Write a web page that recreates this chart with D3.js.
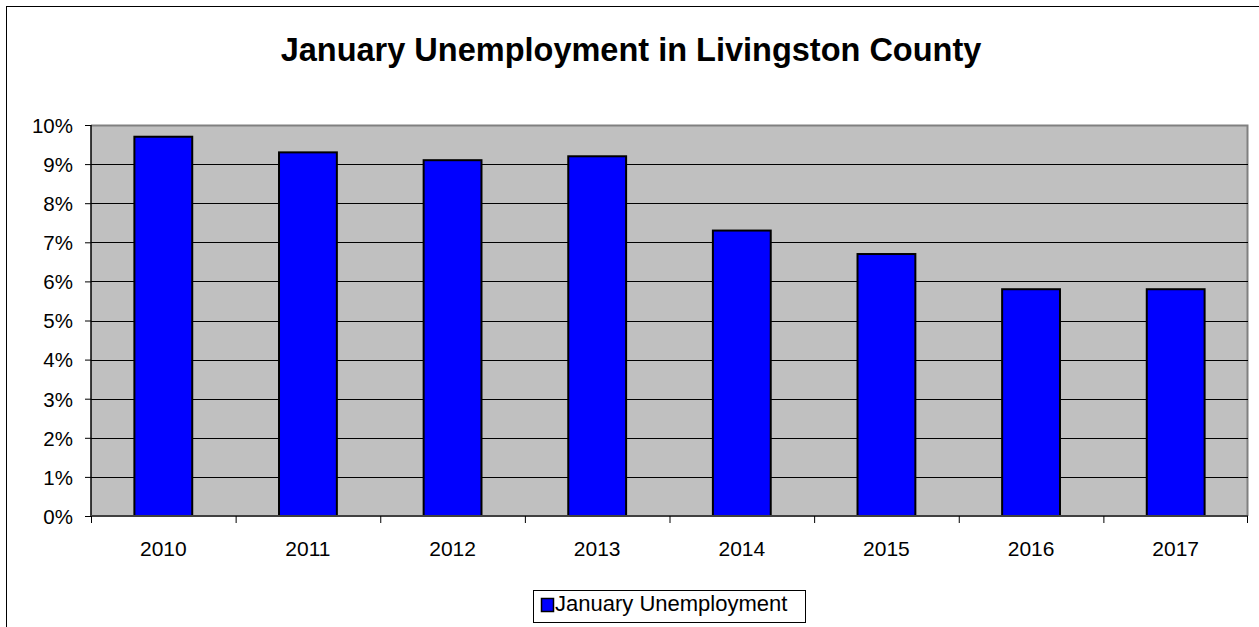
<!DOCTYPE html>
<html>
<head>
<meta charset="utf-8">
<script src="https://cdn.jsdelivr.net/npm/d3@7"></script>
<style>
  body { margin: 0; background: #fff; }
  text { font-family: "Liberation Sans", Arial, sans-serif; }
</style>
</head>
<body>
<div id="chart"></div>
<script>
var years = ["2010", "2011", "2012", "2013", "2014", "2015", "2016", "2017"];
var unemployment = [9.7, 9.3, 9.1, 9.2, 7.3, 6.7, 5.8, 5.8];
var yTicks = [0, 1, 2, 3, 4, 5, 6, 7, 8, 9, 10];
var seriesName = "January Unemployment";

var totalWidth = 1259, totalHeight = 627;
var margin = {top: 125, right: 11, bottom: 111, left: 91},
    width = totalWidth - margin.left - margin.right,
    height = totalHeight - margin.top - margin.bottom;

var svg = d3.select("#chart")
  .append("svg")
    .attr("width", totalWidth)
    .attr("height", totalHeight);

// outer chart border
svg.append("rect")
    .attr("x", 6.5)
    .attr("y", 6.5)
    .attr("width", totalWidth)
    .attr("height", totalHeight)
    .attr("fill", "#fff")
    .attr("stroke", "#000")
    .attr("stroke-width", 1);

svg.append("text")
    .attr("x", 631)
    .attr("y", 61)
    .attr("text-anchor", "middle")
    .attr("font-weight", 700)
    .style("font-size", "32.5px")
    .text("January Unemployment in Livingston County");

var g = svg.append("g")
    .attr("transform", "translate(" + margin.left + "," + margin.top + ")");

var x = d3.scaleBand()
    .domain(years)
    .range([0, width])
    .paddingInner(0.6)
    .paddingOuter(0.3);

var xb = d3.scaleBand()
    .domain(years)
    .range([0, width]);

var y = d3.scaleLinear()
    .domain([0, 10])
    .range([height, 0]);

// plot area
g.append("rect")
    .attr("width", width)
    .attr("height", height)
    .attr("fill", "#c0c0c0");

g.append("path")
    .attr("d", "M0,0.5H" + (width - 0.5) + "V" + height)
    .attr("fill", "none")
    .attr("stroke", "#808080")
    .attr("stroke-width", 2);

// gridlines
g.append("g")
  .selectAll("line")
  .data(yTicks.slice(1, -1))
  .enter().append("line")
    .attr("x1", 0)
    .attr("x2", width)
    .attr("y1", function(d) { return Math.round(y(d)) + 0.5; })
    .attr("y2", function(d) { return Math.round(y(d)) + 0.5; })
    .attr("stroke", "#000")
    .attr("stroke-width", 1.2);

// bars
g.append("g")
  .selectAll("rect")
  .data(unemployment)
  .enter().append("rect")
    .attr("x", function(d, i) { return x(years[i]); })
    .attr("y", function(d) { return y(d); })
    .attr("width", x.bandwidth())
    .attr("height", function(d) { return height - y(d); })
    .attr("fill", "#0000ff")
    .attr("stroke", "#000")
    .attr("stroke-width", 2);

// y axis
var yAxis = g.append("g")
    .call(d3.axisLeft(y)
      .tickValues(yTicks)
      .tickSize(6)
      .tickPadding(12)
      .tickFormat(function(d) { return d + "%"; }));
yAxis.select(".domain").attr("stroke", "#000").attr("stroke-width", 1.5).attr("d", "M0,0V" + height);
yAxis.selectAll(".tick line").attr("stroke", "#000");
yAxis.selectAll(".tick text")
    .style("font-size", "20.5px")
    .attr("dy", "0.36em")
    .attr("fill", "#000");

// x axis with boundary ticks
var xAxis = g.append("g")
    .attr("transform", "translate(0," + height + ")");
xAxis.append("line")
    .attr("x1", 0).attr("x2", width)
    .attr("stroke", "#404040")
    .attr("stroke-width", 2);
xAxis.selectAll("line.tk")
  .data(years.concat(["end"]))
  .enter().append("line")
    .attr("class", "tk")
    .attr("x1", function(d, i) { return i < years.length ? xb(d) + 0.5 : width - 0.5; })
    .attr("x2", function(d, i) { return i < years.length ? xb(d) + 0.5 : width - 0.5; })
    .attr("y1", 0)
    .attr("y2", 7)
    .attr("stroke", "#000");
xAxis.selectAll("text")
  .data(years)
  .enter().append("text")
    .attr("x", function(d) { return xb(d) + xb.bandwidth() / 2; })
    .attr("y", 40)
    .attr("text-anchor", "middle")
    .style("font-size", "21px")
    .text(function(d) { return d; });

// legend
var legend = svg.append("g")
    .attr("transform", "translate(533,590)");
legend.append("rect")
    .attr("x", 0.5).attr("y", 0.5)
    .attr("width", 272).attr("height", 32)
    .attr("fill", "#fff")
    .attr("stroke", "#000");
legend.append("rect")
    .attr("x", 8.5).attr("y", 8.5)
    .attr("width", 12).attr("height", 13)
    .attr("fill", "#0000ff")
    .attr("stroke", "#000")
    .attr("stroke-width", 1.5);
legend.append("text")
    .attr("x", 22)
    .attr("y", 21)
    .style("font-size", "22px")
    .text(seriesName);
</script>
</body>
</html>
